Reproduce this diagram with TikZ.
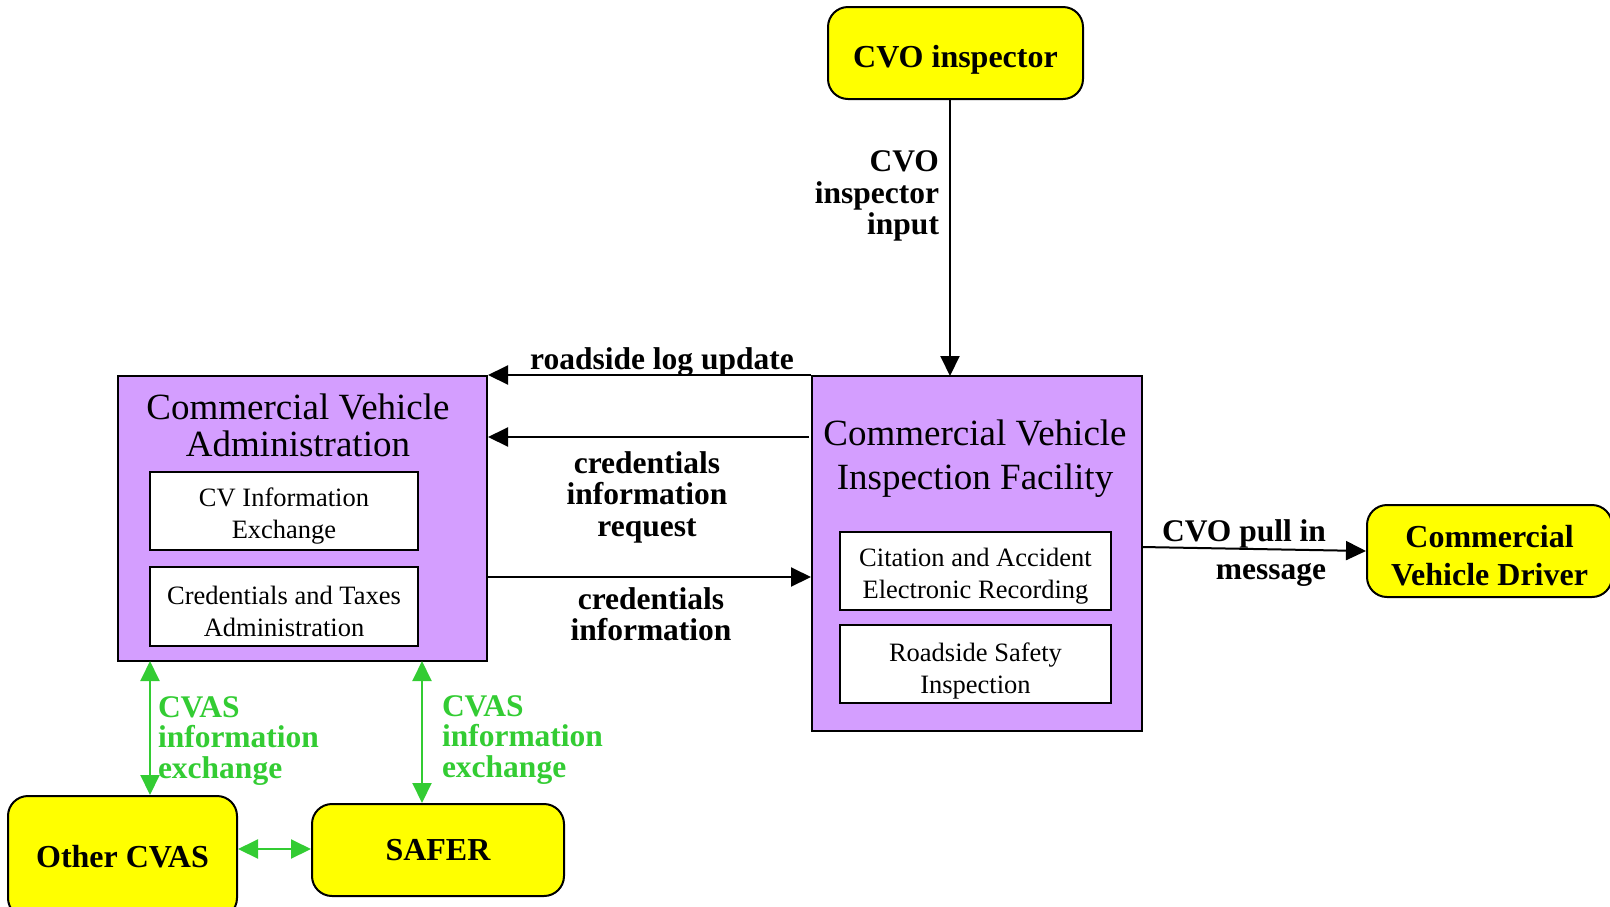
\documentclass[tikz,border=0pt]{standalone}
\usepackage{fontspec}
\setmainfont{Liberation Serif}
\usetikzlibrary{arrows.meta}

\definecolor{actoryellow}{RGB}{255,255,0}
\definecolor{unitviolet}{RGB}{212,158,255}
\definecolor{cvasgreen}{RGB}{51,204,51}

\begin{document}
\begin{tikzpicture}[x=1pt, y=-1pt, line width=2pt,
        >={Triangle[length=20pt, width=19pt]},
        actor/.style={draw, fill=actoryellow, rounded corners=20pt, align=center, inner sep=0pt,
            font=\bfseries\fontsize{32}{38}\selectfont},
        sysunit/.style={draw, fill=unitviolet, inner sep=0pt},
        subunit/.style={draw, fill=white, align=center, inner sep=0pt, text height=60pt,
            font=\fontsize{26.5}{32}\selectfont},
        unittitle/.style={align=center, inner sep=0pt, font=\fontsize{37}{37}\selectfont},
        flowlabel/.style={align=center, inner sep=0pt, font=\bfseries\fontsize{31.5}{31.5}\selectfont},
        cvaslabel/.style={align=left, inner sep=0pt, text=cvasgreen,
            font=\bfseries\fontsize{31.5}{30.5}\selectfont}]

    \useasboundingbox (0,0) rectangle (1610,906);
    \clip (0,0) rectangle (1610,906);

    % --- terminatory ---
    \node[actor, text height=36pt, minimum width=255pt, minimum height=92pt] (insp) at (955.5,53) {CVO inspector};
    \node[actor, text height=69pt, minimum width=245pt, minimum height=92pt] (drv) at (1489.5,551) {Commercial\\Vehicle Driver};
    \node[actor, minimum width=229pt, minimum height=122pt] (ocvas) at (122.5,857) {Other CVAS};
    \node[actor, minimum width=252pt, minimum height=92pt] (safer) at (438,850) {SAFER};

    % --- podsystem administracyjny ---
    \node[sysunit, minimum width=369pt, minimum height=285pt] (cva) at (302.5,518.5) {};
    \node[unittitle] (cvat) at (298,425.5) {Commercial Vehicle\\Administration};
    \node[subunit, minimum width=268pt, minimum height=78pt] (cvie) at (284,511) {CV Information\\Exchange};
    \node[subunit, minimum width=268pt, minimum height=79pt] (ctax) at (284,606.5) {Credentials and Taxes\\Administration};

    % --- punkt kontroli ---
    \node[sysunit, minimum width=330pt, minimum height=355pt] (cvif) at (977,553.5) {};
    \node[unittitle, font=\fontsize{37}{44}\selectfont] (cvift) at (975,459) {Commercial Vehicle\\Inspection Facility};
    \node[subunit, minimum width=271pt, minimum height=78pt] (cae) at (975.5,571) {Citation and Accident\\Electronic Recording};
    \node[subunit, text height=64pt, minimum width=271pt, minimum height=78pt] (rsi) at (975.5,664) {Roadside Safety\\Inspection};

    % --- punkty zaczepienia ---
    \coordinate (ii) at (950,376);
    \coordinate (rq) at (809,437);
    \coordinate (ci) at (487,577);
    \coordinate (pl) at (1142,547);
    \coordinate (ga) at (150,661);
    \coordinate (gb) at (422,661);
    \coordinate (gc) at (275,849);

    % --- przepływy ---
    \draw[->] (ii |- insp.south) -- (ii);
    \draw[->] (cvif.north west) -- (cva.north east);
    \draw[->] (rq) -- (rq -| cva.east);
    \draw[->] (ci) -- (ci -| cvif.west);
    \draw[->] (pl) -- (drv.west);

    % --- wymiana CVAS ---
    \draw[<->, cvasgreen] (ga) -- (ga |- ocvas.north);
    \draw[<->, cvasgreen] (gb) -- (gb |- safer.north);
    \draw[<->, cvasgreen] (gc -| ocvas.east) -- (gc -| safer.west);

    % --- etykiety ---
    \node[flowlabel, align=right, anchor=east] (liinp) at (940,196) {CVO\\inspector\\input};
    \node[flowlabel] (llog) at (662,362) {roadside log update};
    \node[flowlabel] (lreq) at (647,497) {credentials\\information\\request};
    \node[flowlabel] (lcred) at (651,614) {credentials\\information};
    \node[flowlabel, align=right, anchor=east, font=\bfseries\fontsize{31.5}{38}\selectfont] (lpull) at (1327,553) {CVO pull in\\message};
    \node[cvaslabel, anchor=west] (lga) at (157,741) {CVAS\\information\\exchange};
    \node[cvaslabel, anchor=west] (lgb) at (441,740) {CVAS\\information\\exchange};

\end{tikzpicture}
\end{document}
